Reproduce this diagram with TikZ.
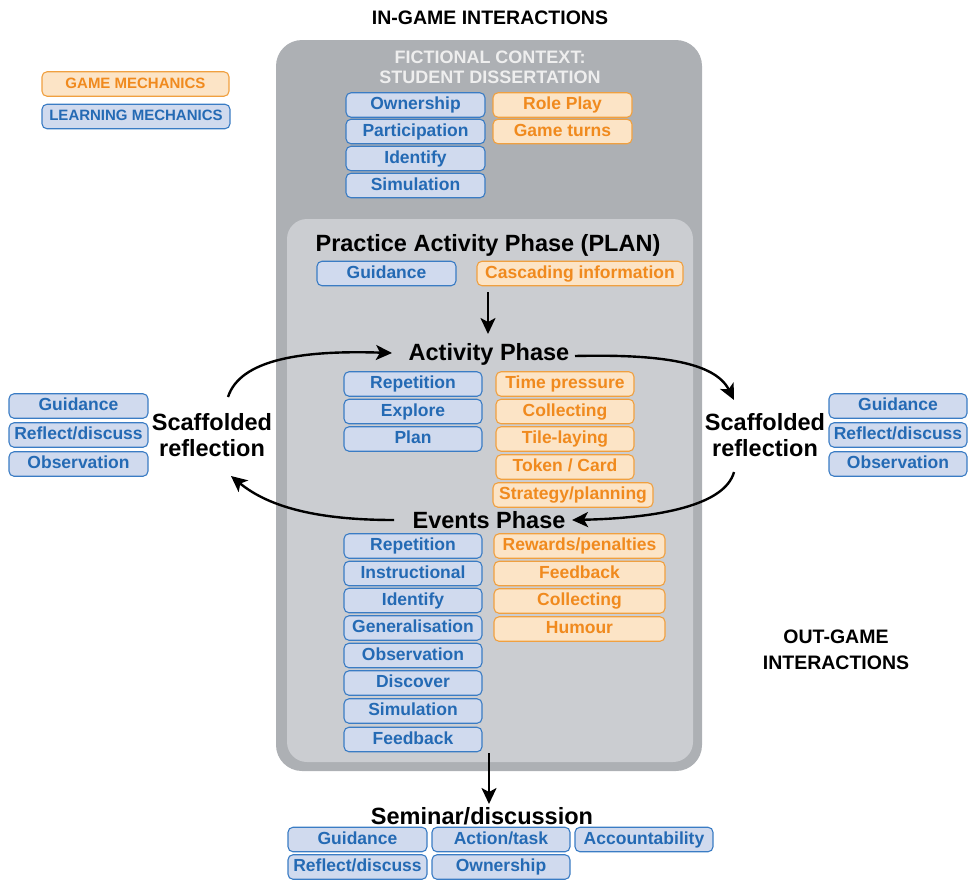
\documentclass[tikz,border=0pt]{standalone}
\usepackage{fontspec}
\setmainfont{Liberation Sans}
\usetikzlibrary{arrows.meta}
\definecolor{bfill}{RGB}{208,218,238}
\definecolor{bline}{RGB}{58,124,196}
\definecolor{btext}{RGB}{36,106,180}
\definecolor{ofill}{RGB}{252,228,198}
\definecolor{oline}{RGB}{240,160,64}
\definecolor{otext}{RGB}{240,138,30}
\definecolor{outergray}{RGB}{173,176,180}
\definecolor{innergray}{RGB}{203,205,209}
\definecolor{fictext}{RGB}{238,238,238}
\tikzset{
  lm/.style={draw=bline, fill=bfill, text=btext, rounded corners=5pt, line width=1.1pt,
    minimum height=24.5pt, inner sep=0pt, text height=12.5pt, text depth=3.5pt,
    font=\fontsize{17.5}{19}\selectfont\bfseries},
  gm/.style={draw=oline, fill=ofill, text=otext, rounded corners=5pt, line width=1.1pt,
    minimum height=24.5pt, inner sep=0pt, text height=12.5pt, text depth=3.5pt,
    font=\fontsize{17.5}{19}\selectfont\bfseries},
  head/.style={font=\fontsize{23.5}{26}\selectfont\bfseries, text=black, inner sep=1pt},
  title/.style={font=\fontsize{19.5}{26}\selectfont\bfseries, text=black, inner sep=0pt, align=center},
  arr/.style={-{Stealth[length=16pt,width=15pt,inset=4pt]}, line width=2.4pt}
}
\begin{document}
\begin{tikzpicture}[x=1pt,y=-1pt]
\useasboundingbox (0,0) rectangle (968,879);
% containers
\fill[outergray, rounded corners=26pt] (276,40) rectangle (702,771);
\fill[innergray, rounded corners=20pt] (287,219) rectangle (693,762);
% titles
\node[title] (ingame) at (490,18) {IN-GAME INTERACTIONS};
\node[title] (outgame) at (836,650) {OUT-GAME\\INTERACTIONS};
\node[font=\fontsize{18}{20}\selectfont\bfseries, text=fictext, align=center, inner sep=0pt] (fic) at (490,67) {FICTIONAL CONTEXT:\\STUDENT DISSERTATION};
% legend
\node[gm, minimum width=187pt, text height=11pt, text depth=3pt, font=\fontsize{15}{16}\selectfont\bfseries] (lgm) at (135.5,84) {GAME MECHANICS};
\node[lm, minimum width=188pt, text height=11pt, text depth=3pt, font=\fontsize{15}{16}\selectfont\bfseries] (llm) at (136,116.5) {LEARNING MECHANICS};
% fictional context boxes
\node[lm, minimum width=139pt] (f1) at (415.5,105) {Ownership};
\node[lm, minimum width=139pt] (f2) at (415.5,131.5) {Participation};
\node[lm, minimum width=139pt] (f3) at (415.5,158.5) {Identify};
\node[lm, minimum width=139pt] (f4) at (415.5,185.5) {Simulation};
\node[gm, minimum width=139pt] (g1) at (562.5,105) {Role Play};
\node[gm, minimum width=139pt] (g2) at (562.5,131.5) {Game turns};
% practice phase
\node[head] (plan) at (488,245) {Practice Activity Phase (PLAN)};
\node[lm, minimum width=139pt] (pg) at (386.5,273.5) {Guidance};
\node[gm, minimum width=206pt] (pc) at (580,273.5) {Cascading information};
% activity phase
\node[head] (act) at (489,354) {Activity Phase};
\node[lm, minimum width=138pt] (a1) at (413,384) {Repetition};
\node[lm, minimum width=138pt] (a2) at (413,411.5) {Explore};
\node[lm, minimum width=138pt] (a3) at (413,439) {Plan};
\node[gm, minimum width=138pt] (b1) at (565,384) {Time pressure};
\node[gm, minimum width=138pt] (b2) at (565,411.5) {Collecting};
\node[gm, minimum width=138pt] (b3) at (565,439) {Tile-laying};
\node[gm, minimum width=138pt] (b4) at (565,467) {Token / Card};
\node[gm, minimum width=160pt] (b5) at (573,495) {Strategy/planning};
% events phase
\node[head] (ev) at (489,520) {Events Phase};
\node[lm, minimum width=138pt] (e1) at (413,546) {Repetition};
\node[lm, minimum width=138pt] (e2) at (413,573.5) {Instructional};
\node[lm, minimum width=138pt] (e3) at (413,600.5) {Identify};
\node[lm, minimum width=138pt] (e4) at (413,628) {Generalisation};
\node[lm, minimum width=138pt] (e5) at (413,655.5) {Observation};
\node[lm, minimum width=138pt] (e6) at (413,683) {Discover};
\node[lm, minimum width=138pt] (e7) at (413,711) {Simulation};
\node[lm, minimum width=138pt] (e8) at (413,739.5) {Feedback};
\node[gm, minimum width=171pt] (r1) at (579.5,546) {Rewards/penalties};
\node[gm, minimum width=171pt] (r2) at (579.5,573.5) {Feedback};
\node[gm, minimum width=171pt] (r3) at (579.5,601) {Collecting};
\node[gm, minimum width=171pt] (r4) at (579.5,629) {Humour};
% scaffolded reflection left
\node[head, align=center, font=\fontsize{23.5}{26}\selectfont\bfseries] (sl) at (212,435) {Scaffolded\\reflection};
\node[lm, minimum width=139pt] (sl1) at (78.5,406) {Guidance};
\node[lm, minimum width=139pt] (sl2) at (78.5,435) {Reflect/discuss};
\node[lm, minimum width=139pt] (sl3) at (78.5,464) {Observation};
% scaffolded reflection right
\node[head, align=center, font=\fontsize{23.5}{26}\selectfont\bfseries] (sr) at (765,435) {Scaffolded\\reflection};
\node[lm, minimum width=138pt] (sr1) at (898,406) {Guidance};
\node[lm, minimum width=138pt] (sr2) at (898,435) {Reflect/discuss};
\node[lm, minimum width=138pt] (sr3) at (898,464) {Observation};
% seminar
\node[head] (sem) at (482,816) {Seminar/discussion};
\node[lm, minimum width=139pt] (s1) at (357.5,839.5) {Guidance};
\node[lm, minimum width=138pt] (s2) at (501,839.5) {Action/task};
\node[lm, minimum width=138pt] (s3) at (644,839.5) {Accountability};
\node[lm, minimum width=139pt] (s4) at (357.5,867) {Reflect/discuss};
\node[lm, minimum width=138pt] (s5) at (501,867) {Ownership};
% connectors
\coordinate (pa) at (488,292);
\coordinate (pb) at (488,334);
\draw[arr] (pa) -- (pb);
\coordinate (ea) at (489,753);
\coordinate (eb) at (489,804);
\draw[arr] (ea) -- (eb);
\coordinate (lt0) at (228,397);
\coordinate (lt1) at (392,353);
\draw[arr] (lt0) .. controls (240,360) and (300,350) .. (lt1);
\coordinate (rt0) at (575,356);
\coordinate (rt1) at (734,400);
\draw[arr] (rt0) .. controls (660,354) and (715,362) .. (rt1);
\coordinate (rb0) at (734,472);
\coordinate (rb1) at (572,520);
\draw[arr] (rb0) .. controls (725,505) and (660,518) .. (rb1);
\coordinate (lb0) at (394,520);
\coordinate (lb1) at (231,476);
\draw[arr] (lb0) .. controls (320,520) and (270,508) .. (lb1);
\end{tikzpicture}
\end{document}
